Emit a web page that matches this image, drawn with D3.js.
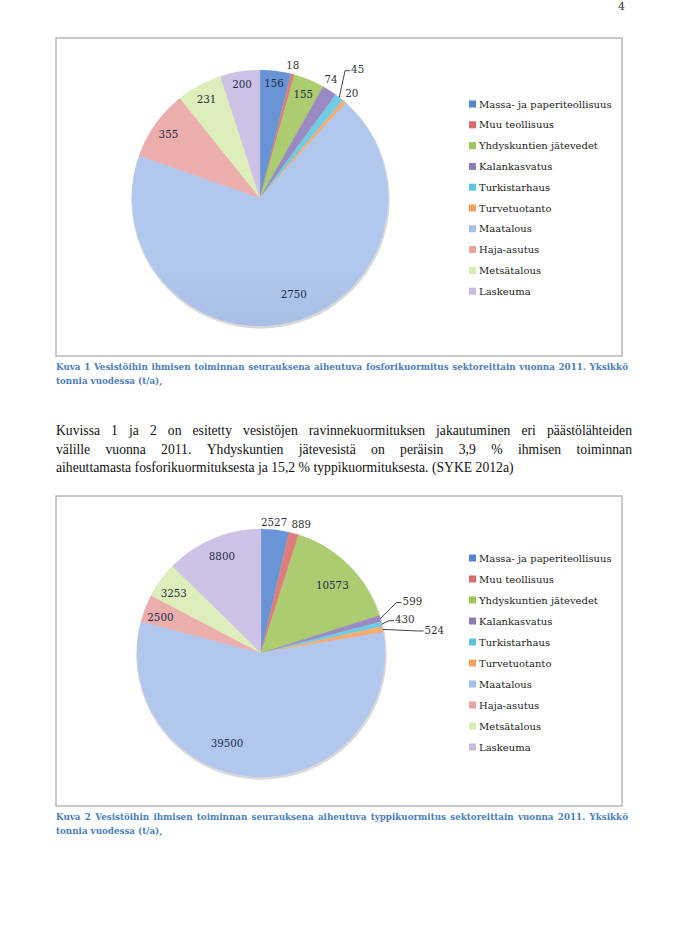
<!DOCTYPE html>
<html><head><meta charset="utf-8">
<script src="https://cdn.jsdelivr.net/npm/d3@7"></script>
<style>html,body{margin:0;padding:0;background:#fff;}svg{display:block;}</style>
</head><body>
<script>
// ---------- data ----------
const categories = ["Massa- ja paperiteollisuus","Muu teollisuus","Yhdyskuntien jätevedet","Kalankasvatus","Turkistarhaus","Turvetuotanto","Maatalous","Haja-asutus","Metsätalous","Laskeuma"];
const phosphorus = [156, 18, 155, 74, 45, 20, 2750, 355, 231, 200];
const nitrogen = [2527, 889, 10573, 599, 430, 524, 39500, 2500, 3253, 8800];
const caption1 = ["Kuva 1 Vesistöihin ihmisen toiminnan seurauksena aiheutuva fosforikuormitus sektoreittain vuonna 2011. Yksikkö", "tonnia vuodessa (t/a),"];
const caption2 = ["Kuva 2 Vesistöihin ihmisen toiminnan seurauksena aiheutuva typpikuormitus sektoreittain vuonna 2011. Yksikkö", "tonnia vuodessa (t/a),"];
const bodyLines = ["Kuvissa 1 ja 2 on esitetty vesistöjen ravinnekuormituksen jakautuminen eri päästölähteiden",
  "välille vuonna 2011.  Yhdyskuntien jätevesistä on peräisin 3,9 % ihmisen toiminnan",
  "aiheuttamasta fosforikuormituksesta ja 15,2 % typpikuormituksesta. (SYKE 2012a)"];
const pageNumber = "4";

// ---------- styling / layout (not data) ----------
const colors = ["#5386cf","#db6b6a","#a0c65b","#8d7ab8","#5cc4e1","#f6a15f","#a6bfec","#e8a3a2","#d9ecb1","#c7bae3"];
// label placement: [radius fraction, angle offset in degrees, leader?]
const labelPlace1 = [[0.9,0,0],[1.07,-1,0],[0.88,0,0],[1.08,-2,0],[1.26,-1,1],[1.09,0,0],[0.8,-5,0],[0.87,-0.6,0],[0.88,0,0],[0.9,0,0]];
const labelPlace2 = [[1.06,-0.8,0],[1.09,2,0],[0.79,1.7,0],[1.29,-2.7,1],[1.19,0.4,1],[1.41,3.4,1],[0.78,18,0],[0.86,-1.8,0],[0.85,-1.9,0],[0.84,0.7,0]];

const W = 690, H = 948;
const SERIF = "'DejaVu Serif', serif";
const BODY = "'Liberation Serif', serif";
const svg = d3.select("body").append("svg").attr("width", W).attr("height", H);
const defs = svg.append("defs");

svg.append("text").attr("x", 625).attr("y", 10).attr("text-anchor","end")
  .attr("font-family", SERIF).attr("font-size", 11).attr("fill","#333").text(pageNumber);

function lighten(c, k){ return d3.interpolateRgb(c, "#ffffff")(k); }
function darken(c, k){ return d3.interpolateRgb(c, "#000000")(k); }

// font size so that a text measures a given width
function fitSize(text, font, weight, targetWidth, base){
  const t = svg.append("text").attr("font-family",font).attr("font-size",base).attr("font-weight",weight).text(text);
  const w = t.node().getComputedTextLength();
  t.remove();
  return base * targetWidth / w;
}

function justify(g, text, x0, width, y, font, size, weight, fill, doJustify){
  if(!doJustify){
    g.append("text").attr("x",x0).attr("y",y).attr("font-family",font).attr("font-size",size)
      .attr("font-weight",weight).attr("fill",fill).text(text);
    return;
  }
  const words = text.split(/\s+/);
  const nodes = words.map(w => g.append("text").attr("y",y).attr("font-family",font).attr("font-size",size)
      .attr("font-weight",weight).attr("fill",fill).text(w));
  const widths = nodes.map(n => n.node().getComputedTextLength());
  const total = d3.sum(widths);
  const gap = (width - total) / (words.length - 1);
  let x = x0;
  nodes.forEach((n,i)=>{ n.attr("x", x); x += widths[i] + gap; });
}

const capSize = fitSize(caption1[0], SERIF, "bold", 566, 9);

function drawChart(id, values, place, box, cx, cy, r, legendY0, legendStep, caption, capY){
  const g = svg.append("g");
  g.append("rect").attr("x",box[0]).attr("y",box[1]).attr("width",box[2]-box[0]).attr("height",box[3]-box[1])
    .attr("fill","#fff").attr("stroke","#b8b8b8").attr("stroke-width",1.5);

  colors.forEach((c,i)=>{
    const gr = defs.append("linearGradient").attr("id",`${id}g${i}`)
      .attr("gradientUnits","userSpaceOnUse").attr("x1",0).attr("x2",0).attr("y1",cy-r).attr("y2",cy+r);
    gr.append("stop").attr("offset","0%").attr("stop-color", lighten(c,0.12));
    gr.append("stop").attr("offset","100%").attr("stop-color", darken(c,0.16));
  });

  const pie = d3.pie().sort(null).value(d=>d)(values);
  const arc = d3.arc().innerRadius(0).outerRadius(r);
  const pg = g.append("g").attr("transform",`translate(${cx},${cy})`);
  pg.append("circle").attr("cx",0.5).attr("cy",1.5).attr("r",r+1.2).attr("fill","#d9d9d9");
  pg.selectAll("path.slice").data(pie).join("path").attr("class","slice")
    .attr("d",arc).attr("fill",(d,i)=>`url(#${id}g${i})`)
    .attr("stroke",(d,i)=>`url(#${id}g${i})`).attr("stroke-width",0.3);

  const deg = Math.PI/180;
  pie.forEach((d,i)=>{
    const [fr, off, leader] = place[i];
    const a = (d.startAngle + d.endAngle)/2 + off*deg;
    const lx = Math.sin(a)*r*fr, ly = -Math.cos(a)*r*fr;
    const outside = fr > 1;
    const t = pg.append("text").attr("x",lx).attr("y",ly).attr("dy","0.35em")
      .attr("text-anchor","middle").attr("font-family",SERIF).attr("font-size",10.3)
      .attr("fill", outside ? "#333" : "#1c2b4a").text(d.data);
    if(leader){
      const tw = t.node().getComputedTextLength();
      const left = lx - tw/2;
      const am = (d.startAngle + d.endAngle)/2;
      const ex = Math.sin(am)*r, ey = -Math.cos(am)*r;
      pg.append("polyline").attr("points", [[ex,ey],[left-6,ly+1],[left-1,ly+1]].map(p=>p.join(",")).join(" "))
        .attr("fill","none").attr("stroke","#333").attr("stroke-width",0.9);
    }
  });

  const lg = g.append("g");
  categories.forEach((c,i)=>{
    const y = legendY0 + i*legendStep;
    lg.append("rect").attr("x",469).attr("y",y-3.5).attr("width",7).attr("height",7).attr("fill",colors[i]);
    lg.append("text").attr("x",479).attr("y",y).attr("dy","0.35em").attr("font-family",SERIF)
      .attr("font-size",10).attr("fill","#222").text(c);
  });

  justify(g, caption[0], 56, 572, capY, SERIF, capSize, "bold", "#4a7ebb", true);
  justify(g, caption[1], 56, 572, capY+13.5, SERIF, capSize, "bold", "#4a7ebb", false);
}

drawChart("p", phosphorus, labelPlace1, [56,38,622,356], 260, 198, 128, 104, 20.8, caption1, 370);
drawChart("n", nitrogen, labelPlace2, [56,496,622,806], 261, 653, 124, 558, 21, caption2, 820);

const bodySize = fitSize(bodyLines[2], BODY, "normal", 458, 13);
const bg = svg.append("g");
bodyLines.forEach((l,i)=>{
  justify(bg, l, 56, 576, 435 + i*18.5, BODY, bodySize, "normal", "#111", i < 2);
});
</script>
</body></html>
